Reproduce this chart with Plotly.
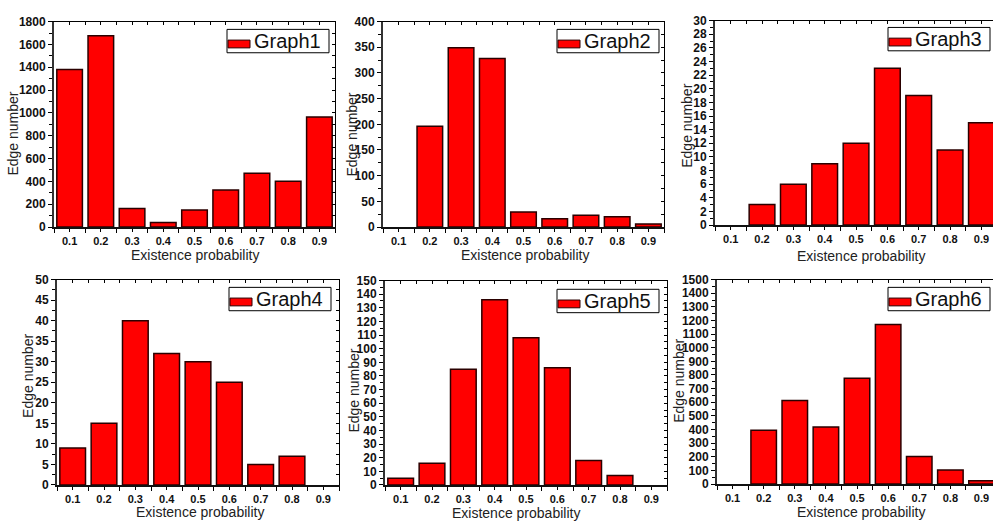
import plotly.graph_objects as go

W, H = 993, 528

probs = [0.1, 0.2, 0.3, 0.4, 0.5, 0.6, 0.7, 0.8, 0.9]
tick_labels = ["0.1", "0.2", "0.3", "0.4", "0.5", "0.6", "0.7", "0.8", "0.9"]

graph1 = [1380, 1675, 162, 40, 148, 325, 470, 400, 963]
graph2 = [0, 196, 349, 328, 29, 16, 23, 20, 6]
graph3 = [0, 3, 6, 9, 12, 23, 19, 11, 15]
graph4 = [9, 15, 40, 32, 30, 25, 5, 7, 0]
graph5 = [5, 16, 85, 136, 108, 86, 18, 7, 0]
graph6 = [0, 395, 612, 419, 776, 1171, 202, 102, 24]

series = [graph1, graph2, graph3, graph4, graph5, graph6]
names = ["Graph1", "Graph2", "Graph3", "Graph4", "Graph5", "Graph6"]
y_max = [1800, 400, 30, 50, 150, 1500]
y_major = [200, 50, 2, 5, 10, 100]

# panel pixel boxes: (left, right, top, bottom)
boxes = [
    (54, 335, 15, 226),
    (383, 664, 15, 226),
    (715, 993, 14, 224),
    (57, 339, 280, 491),
    (385, 667, 281, 491),
    (717, 993, 280, 490),
]
x_ranges = [[0.05, 0.95], [0.05, 0.95], [0.05, 0.937],
            [0.05, 0.95], [0.05, 0.95], [0.05, 0.937]]
show_right = [True, True, False, True, True, False]

# axis title centres (pixels)
xtitle_pos = [(195, 255), (525, 255), (861, 256), (200, 519), (516, 520), (861, 519)]
ytitle_pos = [(13, 130), (352, 131), (687, 122), (28, 379), (354, 394), (679, 384)]
# legend box (right, top) in pixels
legend_pos = [(329, 23), (659, 23), (990, 21), (331, 288), (659, 290), (990, 288)]

FONT = "Arial, Liberation Sans, sans-serif"

fig = go.Figure()
layout = dict(
    width=W, height=H,
    margin=dict(l=0, r=0, t=0, b=0),
    paper_bgcolor="white", plot_bgcolor="white",
    bargap=0.18, showlegend=False,
    annotations=[], shapes=[],
)


def px(x):
    return x / W


def py(y):
    return 1 - y / H


for i in range(6):
    n = i + 1
    sfx = "" if n == 1 else str(n)
    L, R, T, B = boxes[i]
    xd = [L / W, R / W]
    yd = [1 - B / H, 1 - T / H]
    yvals = [v if v else None for v in series[i]]
    fig.add_trace(go.Bar(
        x=probs, y=yvals, name=names[i],
        xaxis=f"x{sfx}", yaxis=f"y{sfx}",
        marker=dict(color="#ff0000", line=dict(color="#2a0000", width=1.5)),
    ))
    # primary axes
    layout[f"xaxis{sfx}"] = dict(
        domain=xd, anchor=f"y{sfx}", range=x_ranges[i],
        tickmode="array", tickvals=probs, ticktext=tick_labels,
        ticks="outside", ticklen=3, tickcolor="black", tickwidth=1,
        minor=dict(tickmode="linear", tick0=0.05, dtick=0.1, ticks="outside",
                   ticklen=4, tickcolor="black", tickwidth=1),
        showline=True, linecolor="#111", linewidth=2,
        mirror=False, showgrid=False, zeroline=False,
        tickfont=dict(family=FONT, size=11, color="#111", weight="bold"),
        fixedrange=True,
    )
    layout[f"yaxis{sfx}"] = dict(
        domain=yd, anchor=f"x{sfx}", range=[0, y_max[i]],
        dtick=y_major[i], tick0=0,
        ticks="outside", ticklen=4, tickcolor="black", tickwidth=1,
        minor=dict(dtick=y_major[i] / 2, ticks="outside", ticklen=3,
                   tickcolor="black", tickwidth=1),
        showline=True, linecolor="#333", linewidth=2,
        showgrid=False, zeroline=False,
        tickfont=dict(family=FONT, size=12, color="#111", weight="bold"),
        fixedrange=True,
    )
    # overlay axes for top / right frame with inward ticks
    ox = 6 + n
    layout[f"xaxis{ox}"] = dict(
        overlaying=f"x{sfx}", anchor=f"y{sfx}", side="top", range=x_ranges[i],
        tickmode="linear", tick0=0.05, dtick=0.05,
        ticks="inside", ticklen=3, tickcolor="black",
        showticklabels=False, showline=True, linecolor="black", linewidth=1,
        showgrid=False, zeroline=False, fixedrange=True,
    )
    layout[f"yaxis{ox}"] = dict(
        overlaying=f"y{sfx}", anchor=f"x{sfx}", side="right", range=[0, y_max[i]],
        tickmode="linear", tick0=0, dtick=y_major[i] / 2,
        ticks="inside" if show_right[i] else "", ticklen=3, tickcolor="black",
        showticklabels=False, showline=show_right[i], linecolor="black", linewidth=1,
        showgrid=False, zeroline=False, fixedrange=True,
    )
    fig.add_trace(go.Scatter(x=[], y=[], xaxis=f"x{ox}", yaxis=f"y{ox}",
                             showlegend=False, hoverinfo="skip"))
    # legend box (Origin style)
    lr, lt = legend_pos[i]
    layout["shapes"].append(dict(
        type="rect", xref="paper", yref="paper",
        x0=px(lr - 102), x1=px(lr), y0=py(lt + 24), y1=py(lt),
        line=dict(color="black", width=1), fillcolor="white", layer="above",
    ))
    layout["shapes"].append(dict(
        type="rect", xref="paper", yref="paper",
        x0=px(lr - 101), x1=px(lr - 79), y0=py(lt + 19), y1=py(lt + 11),
        line=dict(color="#2a0000", width=1), fillcolor="#ff0000", layer="above",
    ))
    layout["annotations"].append(dict(
        text=names[i], x=px(lr - 6), y=py(lt + 12),
        xref="paper", yref="paper", showarrow=False,
        xanchor="right", yanchor="middle",
        font=dict(family=FONT, size=20, color="#111"),
    ))
    # axis titles
    tx, ty = xtitle_pos[i]
    layout["annotations"].append(dict(
        text="Existence probability", x=px(tx), y=py(ty),
        xref="paper", yref="paper", showarrow=False,
        xanchor="center", yanchor="middle",
        font=dict(family=FONT, size=14, color="#222"),
    ))
    vx, vy = ytitle_pos[i]
    layout["annotations"].append(dict(
        text="Edge number", x=px(vx), y=py(vy),
        xref="paper", yref="paper", showarrow=False, textangle=-90,
        xanchor="center", yanchor="middle",
        font=dict(family=FONT, size=14, color="#222"),
    ))

fig.update_layout(**layout)
fig.write_html("out.html")
